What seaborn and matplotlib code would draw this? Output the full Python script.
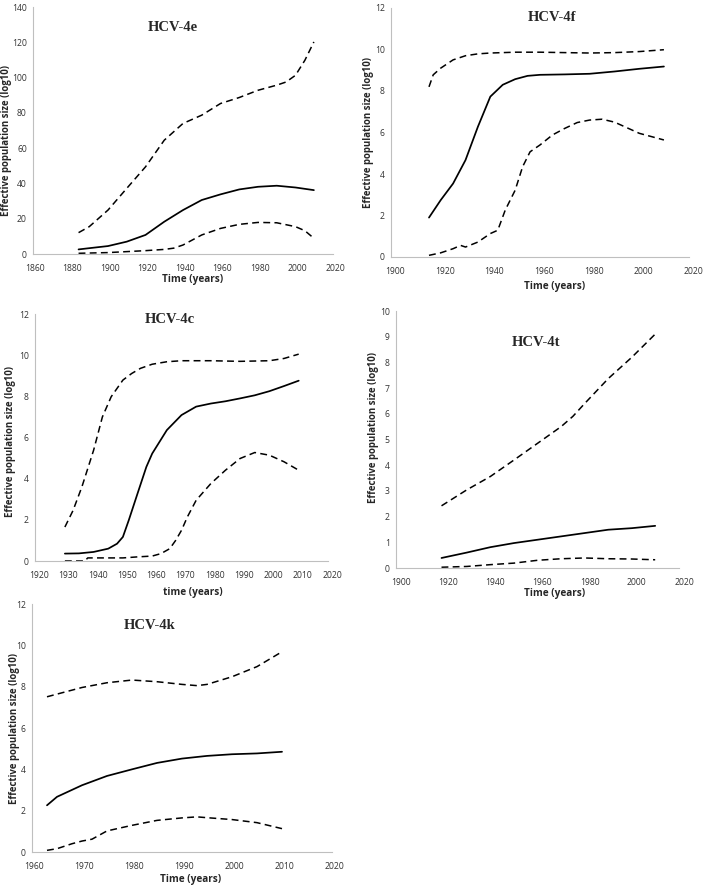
import matplotlib
matplotlib.use("Agg")
import matplotlib.pyplot as plt
import matplotlib.transforms as mtransforms
import seaborn as sns

# ---------------- data ----------------
# HCV-4e
e_year_mid = [1884.3, 1890, 1900, 1910, 1920, 1930, 1940, 1950, 1960, 1970, 1980, 1990, 2000, 2009.8]
e_mid = [2.6, 3.3, 4.5, 7.0, 10.8, 18.3, 24.9, 30.6, 33.8, 36.6, 38.1, 38.7, 37.7, 36.2]
e_year_up = [1884.3, 1890, 1900, 1910, 1920, 1930, 1940, 1950, 1960, 1970, 1980, 1990, 1995, 2000, 2005, 2009.8]
e_up = [12.1, 15.5, 24.9, 37.2, 49.4, 64.5, 74.0, 78.7, 85.3, 88.7, 92.8, 95.7, 97.5, 101.3, 109.8, 120.2]
e_year_lo = [1884.3, 1900, 1920, 1930, 1935, 1940, 1950, 1960, 1970, 1980, 1990, 2000, 2005, 2009.8]
e_lo = [0.4, 0.8, 1.9, 2.6, 3.3, 5.1, 10.8, 14.5, 16.8, 17.9, 17.7, 15.5, 13.2, 8.9]

# HCV-4f
f_year_mid = [1915.3, 1920, 1925, 1930, 1935, 1940, 1945, 1950, 1955, 1960, 1970, 1980, 1990, 2000, 2009.9]
f_mid = [1.9, 2.74, 3.54, 4.67, 6.28, 7.73, 8.3, 8.57, 8.73, 8.78, 8.8, 8.83, 8.94, 9.07, 9.18]
f_year_up = [1915.3, 1917, 1920, 1925, 1930, 1935, 1940, 1950, 1960, 1970, 1980, 1990, 2000, 2009.9]
f_up = [8.2, 8.78, 9.1, 9.5, 9.7, 9.79, 9.83, 9.87, 9.87, 9.85, 9.83, 9.85, 9.9, 9.99]
f_year_lo = [1915.3, 1920, 1925, 1928, 1930, 1935, 1940, 1943, 1946, 1950, 1953, 1956, 1960, 1965, 1970,
             1975, 1980, 1985, 1990, 2000, 2009.9]
f_lo = [0.08, 0.2, 0.4, 0.56, 0.48, 0.72, 1.13, 1.29, 2.26, 3.22, 4.35, 5.07, 5.4, 5.88, 6.2,
        6.48, 6.6, 6.64, 6.5, 5.96, 5.64]

# HCV-4c
c_year_mid = [1930.2, 1935, 1940, 1945, 1948, 1950, 1952, 1955, 1958, 1960, 1965, 1970, 1975, 1980,
              1985, 1990, 1995, 2000, 2005, 2010]
c_mid = [0.36, 0.37, 0.44, 0.6, 0.84, 1.17, 1.98, 3.28, 4.57, 5.22, 6.36, 7.09, 7.5, 7.65,
         7.76, 7.9, 8.05, 8.25, 8.5, 8.76]
c_year_up = [1930.2, 1933, 1936, 1940, 1943, 1946, 1950, 1953, 1956, 1960, 1965, 1970, 1980, 1990,
             2000, 2005, 2010]
c_up = [1.65, 2.46, 3.6, 5.38, 7.0, 7.98, 8.79, 9.11, 9.36, 9.56, 9.68, 9.73, 9.73, 9.7,
        9.73, 9.84, 10.05]
c_year_lo = [1930.2, 1937, 1938, 1950, 1955, 1960, 1963, 1966, 1968, 1970, 1972, 1975, 1980, 1985,
             1990, 1995, 2000, 2005, 2010]
c_lo = [0.0, 0.0, 0.15, 0.15, 0.2, 0.24, 0.36, 0.6, 1.0, 1.49, 2.14, 2.95, 3.76, 4.41,
        4.98, 5.27, 5.14, 4.82, 4.41]

# HCV-4t
t_year_mid = [1919.3, 1930, 1940, 1950, 1960, 1970, 1980, 1990, 2000, 2009.9]
t_mid = [0.39, 0.6, 0.81, 0.97, 1.1, 1.23, 1.36, 1.49, 1.55, 1.64]
t_year_up = [1919.3, 1930, 1940, 1950, 1960, 1970, 1975, 1980, 1990, 2000, 2009.9]
t_up = [2.42, 3.04, 3.56, 4.2, 4.85, 5.5, 5.9, 6.4, 7.37, 8.2, 9.1]
t_year_lo = [1919.3, 1930, 1940, 1950, 1960, 1970, 1980, 1990, 2000, 2009.9]
t_lo = [0.03, 0.06, 0.13, 0.19, 0.3, 0.36, 0.39, 0.36, 0.35, 0.32]

# HCV-4k
k_year_mid = [1963, 1965, 1970, 1975, 1980, 1985, 1990, 1995, 2000, 2005, 2010]
k_mid = [2.26, 2.67, 3.23, 3.68, 4.0, 4.31, 4.52, 4.65, 4.73, 4.77, 4.85]
k_year_up = [1963, 1965, 1970, 1975, 1980, 1985, 1990, 1993, 1995, 2000, 2005, 2010]
k_up = [7.51, 7.64, 7.96, 8.19, 8.32, 8.24, 8.11, 8.05, 8.11, 8.48, 8.97, 9.69]
k_year_lo = [1963, 1965, 1968, 1970, 1972, 1975, 1980, 1985, 1990, 1993, 1995, 2000, 2005, 2010]
k_lo = [0.08, 0.16, 0.4, 0.53, 0.62, 1.02, 1.29, 1.53, 1.65, 1.7, 1.66, 1.57, 1.42, 1.13]

titles = ["HCV-4e", "HCV-4f", "HCV-4c", "HCV-4t", "HCV-4k"]
xlabels = ["Time (years)", "Time (years)", "time (years)", "Time (years)", "Time (years)"]
ylabel = "Effective population size (log10)"
xlims = [(1860, 2020), (1900, 2020), (1920, 2020), (1900, 2020), (1960, 2020)]
xsteps = [20, 20, 10, 20, 10]
ylims = [(0, 140), (0, 12), (0, 12), (0, 10), (0, 12)]
ysteps = [20, 2, 2, 1, 2]

panels = [
    (e_year_mid, e_mid, e_year_up, e_up, e_year_lo, e_lo),
    (f_year_mid, f_mid, f_year_up, f_up, f_year_lo, f_lo),
    (c_year_mid, c_mid, c_year_up, c_up, c_year_lo, c_lo),
    (t_year_mid, t_mid, t_year_up, t_up, t_year_lo, t_lo),
    (k_year_mid, k_mid, k_year_up, k_up, k_year_lo, k_lo),
]

# ---------------- layout ----------------
sns.set_style("white")
plt.rcParams['font.family'] = ['Open Sans', 'DejaVu Sans']

fig = plt.figure(figsize=(7.05, 8.88), dpi=100)
W, H = 705.0, 888.0
# (left, top, right, bottom) in pixels
boxes = [(33, 7, 333, 254), (391, 8, 689, 257), (35, 314, 328, 561),
         (396, 311, 679, 568), (32, 604, 332, 852)]
title_pos = [(0.467, 0.919), (0.54, 0.96), (0.46, 0.976), (0.493, 0.879), (0.393, 0.915)]
xlabel_pos = [(0.533, -0.105), (0.55, -0.12), (0.539, -0.126), (0.56, -0.101), (0.527, -0.109)]
ylabel_pos = [(-0.087, 0.46), (-0.077, 0.5), (-0.085, 0.485), (-0.08, 0.545), (-0.057, 0.5)]
xtick_shift = [2, 4, 4, 5, 2]

spine_col = "#bfbfbf"
dash = (0, (4.5, 2.8))
for i, (box, data) in enumerate(zip(boxes, panels)):
    l, t, r, b = box
    ax = fig.add_axes([l / W, 1 - b / H, (r - l) / W, (b - t) / H])
    xm, ym, xu, yu, xl, yl = data
    sns.lineplot(x=xm, y=ym, ax=ax, color="black", linewidth=1.25, sort=False)
    sns.lineplot(x=xu, y=yu, ax=ax, color="black", linewidth=1.1, linestyle=dash, sort=False)
    sns.lineplot(x=xl, y=yl, ax=ax, color="black", linewidth=1.1, linestyle=dash, sort=False)

    x0, x1 = xlims[i]
    y0, y1 = ylims[i]
    ax.set_xlim(x0, x1)
    ax.set_ylim(y0, y1)
    ax.set_xticks(list(range(x0, x1 + 1, xsteps[i])))
    ys = ysteps[i]
    ax.set_yticks([y0 + k * ys for k in range(int((y1 - y0) / ys) + 1)])
    for s in ["top", "right"]:
        ax.spines[s].set_visible(False)
    for s in ["left", "bottom"]:
        ax.spines[s].set_color(spine_col)
        ax.spines[s].set_linewidth(0.8)
    ax.tick_params(axis="both", which="major", direction="out", length=2.5, width=0.7,
                   color=spine_col, labelsize=6.2, labelcolor="#333333", pad=2)
    ax.tick_params(axis="x", pad=5)
    off = mtransforms.ScaledTranslation(xtick_shift[i] / 100.0, 0, fig.dpi_scale_trans)
    for lab in ax.get_xticklabels():
        lab.set_transform(lab.get_transform() + off)
    ax.set_xlabel(xlabels[i], fontsize=7.2, fontweight="bold")
    ax.set_ylabel(ylabel, fontsize=6.9, fontweight="bold")
    ax.xaxis.set_label_coords(*xlabel_pos[i])
    ax.yaxis.set_label_coords(*ylabel_pos[i])
    ax.xaxis.label.set_va("center")
    ax.yaxis.label.set_va("center")
    ax.text(title_pos[i][0], title_pos[i][1], titles[i], transform=ax.transAxes,
            ha="center", va="center", fontsize=10.5, fontweight="bold",
            family=["Liberation Serif", "DejaVu Serif"])
    ax.set_facecolor("white")
    ax.grid(False)

fig.savefig("out.png", dpi=100, facecolor="white")
